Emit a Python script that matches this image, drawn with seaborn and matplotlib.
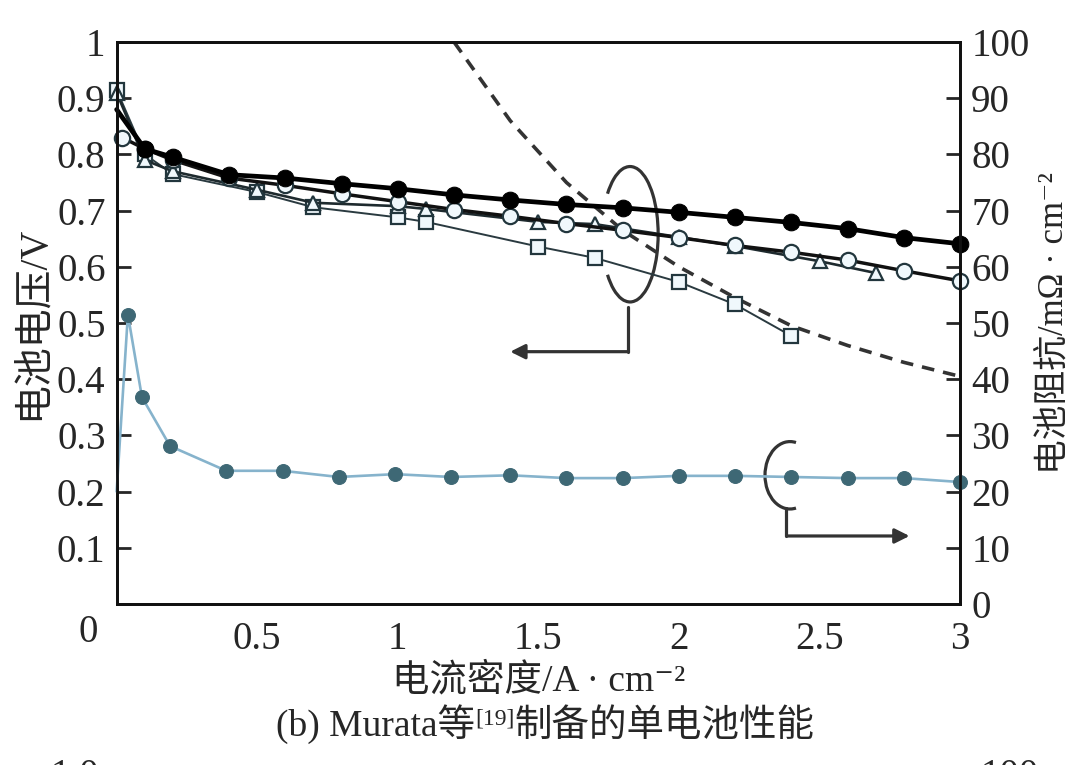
import numpy as np
import pandas as pd
import matplotlib
matplotlib.use('Agg')
import matplotlib.pyplot as plt
import seaborn as sns
from matplotlib.patches import Arc

# 电流密度 / A·cm-2 and 电池电压 / V
filled_x = [0.0, 0.1, 0.2, 0.4, 0.6, 0.8, 1.0, 1.2, 1.4, 1.6, 1.8, 2.0, 2.2, 2.4, 2.6, 2.8, 3.0]
filled_v = [0.88, 0.81, 0.795, 0.764, 0.758, 0.748, 0.739, 0.728, 0.719, 0.711, 0.705, 0.697, 0.688, 0.679, 0.668, 0.652, 0.641]

circ_x = [0.02, 0.1, 0.2, 0.4, 0.6, 0.8, 1.0, 1.2, 1.4, 1.6, 1.8, 2.0, 2.2, 2.4, 2.6, 2.8, 3.0]
circ_v = [0.83, 0.81, 0.79, 0.758, 0.745, 0.73, 0.716, 0.702, 0.69, 0.677, 0.665, 0.652, 0.638, 0.626, 0.612, 0.593, 0.575]

tri_x = [0.0, 0.1, 0.2, 0.5, 0.7, 1.0, 1.1, 1.5, 1.7, 2.0, 2.2, 2.5, 2.7]
tri_v = [0.91, 0.79, 0.77, 0.737, 0.714, 0.708, 0.703, 0.68, 0.676, 0.653, 0.637, 0.61, 0.589]

sq_x = [0.0, 0.1, 0.2, 0.5, 0.7, 1.0, 1.1, 1.5, 1.7, 2.0, 2.2, 2.4]
sq_v = [0.915, 0.80, 0.765, 0.733, 0.706, 0.688, 0.68, 0.636, 0.616, 0.573, 0.533, 0.477]

dash_x = [1.2, 1.4, 1.6, 1.8, 2.0, 2.2, 2.4, 2.6, 2.8, 3.0]
dash_v = [1.0, 0.86, 0.75, 0.665, 0.60, 0.545, 0.495, 0.46, 0.43, 0.405]

# 电池阻抗 / mΩ·cm-2 (right axis)
res_x = [0.0, 0.04, 0.09, 0.19, 0.39, 0.59, 0.79, 0.99, 1.19, 1.4, 1.6, 1.8, 2.0, 2.2, 2.4, 2.6, 2.8, 3.0]
res_r = [20.0, 51.5, 36.8, 28.1, 23.7, 23.7, 22.6, 23.1, 22.6, 22.9, 22.4, 22.4, 22.8, 22.8, 22.6, 22.4, 22.4, 21.7]

sns.set_style('white')
fams = ['Liberation Serif', 'Noto Sans CJK SC', 'DejaVu Serif']
plt.rcParams['font.family'] = fams
fs = 28

fig = plt.figure(figsize=(10.8, 7.65), dpi=100)
ax = fig.add_axes([0.108, 0.2105, 0.781, 0.7345])
ax2 = ax.twinx()

edge = '#22363d'
light = '#f0f8fc'

sns.lineplot(x=dash_x, y=dash_v, ax=ax, color='#333333', lw=2.6, linestyle=(0, (3.5, 2.5)))
sns.lineplot(x=sq_x, y=sq_v, ax=ax, color='#2a3a40', lw=1.4, marker='s', markersize=10,
             markerfacecolor=light, markeredgecolor=edge, markeredgewidth=1.6, clip_on=False)
sns.lineplot(x=tri_x, y=tri_v, ax=ax, color='#1e2a2e', lw=1.9, marker='^', markersize=10,
             markerfacecolor=light, markeredgecolor=edge, markeredgewidth=1.6, clip_on=False)
sns.lineplot(x=circ_x, y=circ_v, ax=ax, color='#111111', lw=2.5, marker='o', markersize=11,
             markerfacecolor=light, markeredgecolor=edge, markeredgewidth=1.6, clip_on=False)
sns.lineplot(x=filled_x, y=filled_v, ax=ax, color='black', lw=3.4, marker='o', markersize=12,
             markerfacecolor='black', markeredgecolor='black', markevery=slice(1, None), clip_on=False)

sns.lineplot(x=res_x, y=res_r, ax=ax2, color='#86b3cc', lw=1.9, marker='o', markersize=10,
             markerfacecolor='#3e6875', markeredgecolor='#3e6875', markevery=slice(1, None), clip_on=False)

ax.set_xlim(0, 3)
ax.set_ylim(0, 1)
ax2.set_ylim(0, 100)

ax.set_xticks([0, 0.5, 1, 1.5, 2, 2.5, 3])
ax.set_xticklabels(['', '0.5', '1', '1.5', '2', '2.5', '3'])
ax.set_yticks(np.arange(0, 1.01, 0.1))
ax.set_yticklabels([''] + ['0.1', '0.2', '0.3', '0.4', '0.5', '0.6', '0.7', '0.8', '0.9', '1'])
ax2.set_yticks(np.arange(0, 101, 10))
ax.text(-0.034, -0.05, '0', transform=ax.transAxes, ha='center', va='center', fontsize=fs)

ax.tick_params(axis='x', length=0, pad=12, labelsize=fs)
ax.tick_params(axis='y', direction='in', length=10, width=2, labelsize=fs, pad=8)
ax2.tick_params(axis='y', direction='in', length=10, width=2, labelsize=fs, pad=8)
for a in (ax, ax2):
    for s in a.spines.values():
        s.set_linewidth(2)
        s.set_color('#111111')

ax.set_xlabel('电流密度/A · cm⁻²', fontsize=27, labelpad=4)
ax.set_ylabel('电池电压/V', fontsize=28, labelpad=4)
ax2.set_ylabel('电池阻抗/mΩ · cm⁻²', fontsize=25, labelpad=6)
for lab in (ax.yaxis.label, ax2.yaxis.label, ax.xaxis.label):
    lab.set_family(fams)

# bracket annotations
ax.add_patch(Arc((1.826, 0.658), 0.2, 0.241, theta1=-138, theta2=138, color='#333333', lw=2.3))
ax.plot([1.82, 1.82], [0.528, 0.449], color='#333333', lw=2.3)
ax.annotate('', xy=(1.39, 0.449), xytext=(1.825, 0.449),
            arrowprops=dict(arrowstyle='-|>', color='#333333', lw=2.3, mutation_scale=22))
ax.add_patch(Arc((2.395, 0.229), 0.178, 0.12, theta1=70, theta2=290, color='#333333', lw=2.3))
ax.plot([2.38, 2.38], [0.17, 0.121], color='#333333', lw=2.3)
ax.annotate('', xy=(2.83, 0.121), xytext=(2.375, 0.121),
            arrowprops=dict(arrowstyle='-|>', color='#333333', lw=2.3, mutation_scale=22))

# caption
fig.canvas.draw()
r = fig.canvas.get_renderer()
parts = ['(b) Murata等', '[19]', '制备的单电池性能']
sizes = [27, 17, 27]
widths = []
tmp = []
for p, s in zip(parts, sizes):
    t = fig.text(0, 0, p, fontsize=s, family=fams)
    widths.append(t.get_window_extent(r).width)
    tmp.append(t)
for t in tmp:
    t.remove()
x0 = 545 - sum(widths) / 2
yb = 765 - 736
for p, s, w, dy in zip(parts, sizes, widths, [0, 12, 0]):
    fig.text(x0 / 1080, (yb + dy) / 765, p, fontsize=s, family=fams, va='baseline')
    x0 += w

# top of the next panel, cut by the page edge
fig.text(75 / 1080, -12 / 765, '1.0', fontsize=fs, ha='center', va='center')
fig.text(1010 / 1080, -12 / 765, '100', fontsize=fs, ha='center', va='center')

fig.savefig('out.png', dpi=100, facecolor='white')
